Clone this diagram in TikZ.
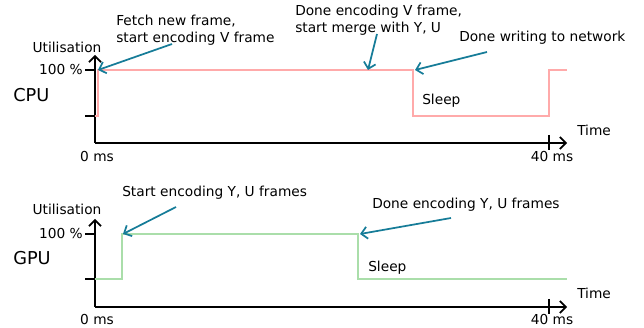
\documentclass[tikz,border=0pt]{standalone}
\usepackage{fontspec}
\setmainfont{DejaVu Sans}
\usetikzlibrary{arrows.meta}
\definecolor{cpuline}{RGB}{255,170,170}
\definecolor{gpuline}{RGB}{170,222,170}
\definecolor{note}{RGB}{22,124,152}

\tikzset{
  axis/.style={line width=1.3pt,-{Straight Barb[length=4.5pt,width=9pt]}},
  tickmark/.style={line width=1.3pt},
  lbl/.style={font=\fontsize{10.3}{12.75}\selectfont,inner sep=0pt},
  unit/.style={font=\fontsize{13.3}{15}\selectfont,inner sep=0pt},
  notearrow/.style={note,line width=1.3pt,-{Straight Barb[length=4.5pt,width=9pt]}},
  cpu/.style={cpuline,line width=1.3pt},
  gpu/.style={gpuline,line width=1.3pt},
}

\begin{document}
\begin{tikzpicture}[x=0.75pt,y=-0.75pt]
\useasboundingbox (0,0) rectangle (644,328);

% CPU panel
\coordinate (c0) at (95,143);
\coordinate (cy) at (95,55);
\coordinate (cx) at (567,143);
\draw[axis] (c0) -- (cy);
\draw[axis] (c0) -- (cx);
\draw[tickmark] (85,70) -- (95,70);
\draw[tickmark] (85,116) -- (95,116);
\draw[tickmark] (549,135) -- (549,150);
\node[lbl] (cutil) at (67,47) {Utilisation};
\node[lbl,anchor=east] (cfull) at (83,70) {100 \%};
\node[unit,anchor=west] (cpulbl) at (13,95) {CPU};
\node[lbl] (czero) at (97,157) {0 ms};
\node[lbl] (cend) at (552,157) {40 ms};
\node[lbl,anchor=west] (ctime) at (577,130) {Time};
\draw[cpu] (95,116) -- (98,116) -- (98,70) -- (413,70) -- (413,116)
  -- (549,116) -- (549,70) -- (567,70);
\node[lbl,anchor=west] (csleep) at (422,101) {Sleep};

\node[lbl,anchor=west,align=left] (fetch) at (116,30.5)
  {Fetch new frame,\\start encoding V frame};
\node[lbl,anchor=west,align=left] (merge) at (295,20.5)
  {Done encoding V frame,\\start merge with Y, U};
\node[lbl,anchor=west] (network) at (459,38) {Done writing to network};
\coordinate (fetchtail) at (172,44);
\coordinate (fetchhead) at (98,70);
\coordinate (mergetail) at (377,34);
\coordinate (mergehead) at (368,70);
\coordinate (nettail) at (487,52);
\coordinate (nethead) at (415,70);
\draw[notearrow] (fetchtail) -- (fetchhead);
\draw[notearrow] (mergetail) -- (mergehead);
\draw[notearrow] (nettail) -- (nethead);

% GPU panel
\begin{scope}[shift={(0,164)}]
\coordinate (g0) at (95,143);
\coordinate (gy) at (95,55);
\coordinate (gx) at (567,143);
\draw[axis] (g0) -- (gy);
\draw[axis] (g0) -- (gx);
\draw[tickmark] (85,70) -- (95,70);
\draw[tickmark] (85,115) -- (95,115);
\draw[tickmark] (549,135) -- (549,150);
\node[lbl] (gutil) at (67,45) {Utilisation};
\node[lbl,anchor=east] (gfull) at (83,70) {100 \%};
\node[unit,anchor=west] (gpulbl) at (13,94) {GPU};
\node[lbl] (gzero) at (97,156) {0 ms};
\node[lbl] (gend) at (552,156) {40 ms};
\node[lbl,anchor=west] (gtime) at (577,129) {Time};
\draw[gpu] (95,115) -- (122,115) -- (122,70) -- (358,70) -- (358,115)
  -- (567,115);
\node[lbl,anchor=west] (gsleep) at (368,104) {Sleep};

\node[lbl,anchor=west] (ystart) at (122,29) {Start encoding Y, U frames};
\node[lbl,anchor=west] (ydone) at (372,41) {Done encoding Y, U frames};
\coordinate (ystarttail) at (176,43);
\coordinate (ystarthead) at (123,70);
\coordinate (ydonetail) at (451,54);
\coordinate (ydonehead) at (360,70);
\draw[notearrow] (ystarttail) -- (ystarthead);
\draw[notearrow] (ydonetail) -- (ydonehead);
\end{scope}
\end{tikzpicture}
\end{document}
